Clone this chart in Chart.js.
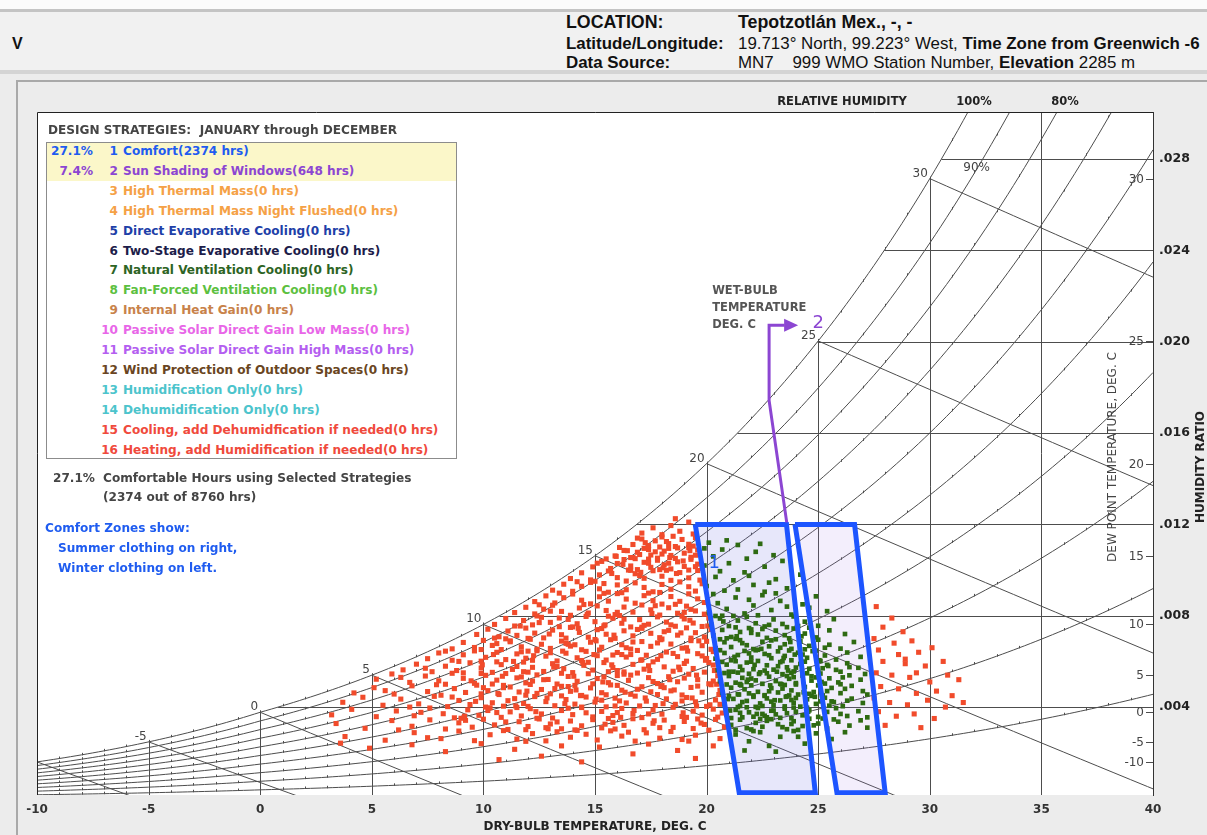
<!DOCTYPE html>
<html>
<head>
<meta charset="utf-8">
<title>Psychrometric chart - Tepotzotlán</title>
<script src="https://cdn.jsdelivr.net/npm/chart.js@4.4.1/dist/chart.umd.min.js"></script>
<style>
  html, body { margin: 0; padding: 0; }
  body { width: 1207px; height: 835px; position: relative; overflow: hidden; background: #ececec; font-family: "DejaVu Sans", sans-serif; }
  #topband { position: absolute; left: 0; top: 0; width: 1207px; height: 9px; background: #fbfbfb; }
  #header { position: absolute; left: 0; top: 9px; width: 1207px; height: 58px; background: #f1f1f1; border-top: 3px solid #c4c4c4; border-bottom: 4px solid #d4d4d4; }
  .hd { position: absolute; white-space: nowrap; font-family: "Liberation Sans", Arial, sans-serif; color: #111; line-height: 18px; }
  .hd b { font-weight: bold; }
  #panel { position: absolute; left: 16px; top: 80px; width: 1191px; height: 755px; border-left: 2px solid #a9a9a9; border-top: 2px solid #a9a9a9; box-sizing: border-box; }
  #chart { position: absolute; left: 0; top: 0; }
  .tx { position: absolute; white-space: nowrap; font-weight: bold; font-size: 12.1px; line-height: 20px; }
  #box { position: absolute; left: 46px; top: 142px; width: 411px; height: 317px; border: 1px solid #8c8c8c; box-sizing: border-box; background: #fff; }
  #hl { position: absolute; left: 47px; top: 143px; width: 409px; height: 38px; background: #fbf7c9; }
</style>
</head>
<body>
<div id="topband"></div>
<div id="header"></div>
<div class="hd" style="left:12px;top:35px;font-size:16px;font-weight:bold;">V</div>
<div class="hd" style="left:566px;top:13px;font-size:17.8px;"><b>LOCATION:</b></div>
<div class="hd" style="left:738px;top:13px;font-size:17.8px;"><b>Tepotzotlán Mex., -, -</b></div>
<div class="hd" style="left:566px;top:35px;font-size:16.9px;"><b>Latitude/Longitude:</b></div>
<div class="hd" style="left:738px;top:35px;font-size:16.9px;">19.713° North, 99.223° West, <b>Time Zone from Greenwich -6</b></div>
<div class="hd" style="left:566px;top:54px;font-size:16.9px;"><b>Data Source:</b></div>
<div class="hd" style="left:738px;top:54px;font-size:16.9px;">MN7&nbsp;&nbsp;&nbsp; 999 WMO Station Number, <b>Elevation</b> 2285 m</div>
<div id="panel"></div>
<canvas id="chart" width="1207" height="835"></canvas>
<div id="legend"></div>
<script>
// ---- chart data (temperatures in deg C, humidity ratio in g/kg) ----
const dryBulbTicks = [-10, -5, 0, 5, 10, 15, 20, 25, 30, 35, 40];
const humidityTicks = [0.004, 0.008, 0.012, 0.016, 0.020, 0.024, 0.028];
const dewPointTicks = [-10, -5, 0, 5, 10, 15, 20, 25, 30];
const wetBulbLines = [-10, -5, 0, 5, 10, 15, 20, 25, 30];
const dryBulbLines = [-5, 0, 5, 10, 15, 20, 25, 30, 35];
const rhCurves = [10, 20, 30, 40, 50, 60, 70, 80, 90, 100];

// comfort zones (winter clothing left, summer clothing right)
const winterZoneT = [19.49, 23.58, 24.87, 21.46];
const winterZoneW = [12.0, 12.0, 0.25, 0.25];
const summerZoneT = [23.96, 26.63, 28.0, 25.84];
const summerZoneW = [12.0, 12.0, 0.25, 0.25];
// sun shading boundary (strategy 2)
const sunShadeT = [23.59, 22.8, 22.8, 23.5];
const sunShadeW = [12.09, 17.43, 20.72, 20.72];
const sunShadeTip = [24.1, 20.72];

// hourly weather points, outside comfort (red) - [T, W, T, W, ...]
const redRowLow = [3.6,2.42, 4.9,2.2, 6.8,2.35, 8.3,2.05, 9.9,2.4, 11.4,2.15, 12.6,1.85, 13.5,2.3, 14.4,1.6, 15.2,2.25, 16.7,1.95, 17.4,2.38, 18.7,2.1, 19.5,1.75, 20.3,2.3, 10.7,1.7];
const redRow25 = [3.8,2.71, 5.6,2.55, 6.9,2.88, 8.1,2.62, 8.9,2.95, 9.6,2.53, 10.3,2.79, 10.9,2.97, 11.5,2.6, 12.2,2.84, 12.8,2.52, 13.3,2.92, 13.9,2.68, 14.6,2.81, 15.1,2.56, 15.7,2.96, 16.2,2.73, 16.8,2.51, 17.3,2.87, 17.9,2.64, 18.4,2.93, 18.9,2.58, 19.5,2.77, 20.1,2.99, 20.6,2.62, 11.9,2.5, 14.2,2.98, 16.5,2.9, 19.2,2.51, 7.5,2.66];
const redRow30 = [3.4,3.28, 4.7,3.07, 5.9,3.41, 6.8,3.16, 7.6,3.44, 8.3,3.04, 8.9,3.31, 9.5,3.12, 10.0,3.47, 10.5,3.22, 11.1,3.02, 11.6,3.36, 12.0,3.15, 12.5,3.48, 13.0,3.26, 13.5,3.05, 13.9,3.39, 14.4,3.18, 14.9,3.45, 15.3,3.09, 15.8,3.33, 16.3,3.2, 16.7,3.49, 17.2,3.01, 17.6,3.29, 18.1,3.43, 18.5,3.11, 19.0,3.37, 19.4,3.06, 19.9,3.24, 20.4,3.46, 20.8,3.13, 6.2,3.0, 9.2,3.42, 11.9,3.01, 14.1,3.0, 15.9,3.04, 17.9,3.1, 19.6,3.48, 12.8,3.1];
const redRow35 = [3.2,3.66, 4.1,3.9, 5.2,3.58, 6.1,3.83, 6.9,3.62, 7.6,3.96, 8.2,3.71, 8.7,3.53, 9.3,3.88, 9.8,3.64, 10.3,3.97, 10.8,3.55, 11.2,3.79, 11.7,3.61, 12.1,3.93, 12.6,3.7, 13.1,3.52, 13.5,3.85, 14.0,3.67, 14.4,3.98, 14.9,3.57, 15.3,3.81, 15.8,3.63, 16.2,3.94, 16.7,3.72, 17.1,3.54, 17.6,3.87, 18.0,3.69, 18.5,3.99, 18.9,3.59, 19.4,3.82, 19.8,3.65, 20.3,3.91, 20.7,3.74, 7.2,3.77, 9.0,3.51, 10.6,3.76, 12.4,3.51, 13.8,3.95, 15.6,3.5, 17.4,3.7, 19.1,3.55, 20.5,3.56, 11.5,3.98, 16.0,3.76];
const redRow40 = [3.7,4.21, 4.6,4.43, 5.5,4.08, 6.3,4.35, 7.1,4.14, 7.8,4.47, 8.4,4.02, 8.9,4.29, 9.4,4.11, 9.9,4.41, 10.4,4.19, 10.9,4.04, 11.4,4.37, 11.8,4.16, 12.3,4.46, 12.8,4.24, 13.2,4.06, 13.7,4.33, 14.1,4.13, 14.6,4.44, 15.0,4.22, 15.5,4.01, 15.9,4.39, 16.4,4.18, 16.8,4.48, 17.3,4.26, 17.7,4.07, 18.2,4.36, 18.6,4.12, 19.1,4.42, 19.5,4.23, 20.0,4.03, 20.4,4.31, 20.6,4.12, 6.7,4.0, 8.6,4.44, 10.1,4.0, 12.0,4.03, 13.5,4.49, 15.3,4.3, 17.0,4.05, 18.9,4.27, 11.1,4.28, 14.4,4.0, 16.1,4.27];
const redRow45 = [4.2,4.62, 5.1,4.85, 6.0,4.57, 6.8,4.93, 7.5,4.68, 8.1,4.52, 8.7,4.81, 9.2,4.64, 9.7,4.96, 10.2,4.72, 10.7,4.55, 11.2,4.88, 11.6,4.66, 12.1,4.99, 12.6,4.77, 13.0,4.58, 13.5,4.91, 13.9,4.69, 14.4,4.51, 14.8,4.84, 15.3,4.63, 15.7,4.97, 16.2,4.74, 16.6,4.56, 17.1,4.89, 17.5,4.67, 18.0,4.94, 18.4,4.71, 18.9,4.53, 19.3,4.86, 19.8,4.65, 20.2,4.98, 20.6,4.73, 5.6,4.72, 7.9,4.98, 9.9,4.58, 11.9,4.52, 13.2,4.81, 14.1,4.95, 15.5,4.54, 16.9,4.78, 17.8,4.55, 19.6,4.92, 10.9,4.95, 12.4,4.6];
const redRow50 = [5.2,5.22, 5.9,5.45, 6.7,5.08, 7.4,5.36, 8.0,5.15, 8.6,5.48, 9.1,5.26, 9.6,5.04, 10.1,5.39, 10.6,5.18, 11.0,5.47, 11.5,5.28, 11.9,5.06, 12.4,5.41, 12.9,5.21, 13.3,5.01, 13.8,5.34, 14.2,5.13, 14.7,5.46, 15.1,5.25, 15.6,5.07, 16.0,5.38, 16.5,5.17, 16.9,5.49, 17.4,5.29, 17.8,5.03, 18.3,5.33, 18.7,5.11, 19.2,5.44, 19.6,5.2, 20.1,5.02, 20.5,5.37, 6.3,5.3, 8.3,5.0, 9.9,5.47, 11.7,5.32, 13.5,5.48, 14.9,5.02, 16.3,5.44, 17.6,5.12, 19.0,5.27, 20.3,5.14, 12.2,5.14, 15.4,5.32, 10.4,5.01];
const redRow55 = [6.4,5.63, 7.0,5.88, 7.7,5.55, 8.3,5.79, 8.8,5.6, 9.4,5.94, 9.9,5.71, 10.4,5.52, 10.8,5.86, 11.3,5.65, 11.8,5.97, 12.2,5.74, 12.7,5.56, 13.1,5.9, 13.6,5.68, 14.0,5.51, 14.5,5.83, 14.9,5.62, 15.4,5.95, 15.8,5.73, 16.3,5.54, 16.7,5.87, 17.2,5.66, 17.6,5.98, 18.1,5.76, 18.5,5.57, 19.0,5.91, 19.4,5.69, 19.9,5.53, 20.3,5.84, 7.4,5.7, 9.1,5.5, 10.6,5.98, 12.0,5.53, 13.3,5.78, 14.7,5.96, 16.0,5.6, 17.4,5.81, 18.8,5.64, 20.1,5.95, 11.5,5.78, 15.6,5.55];
const redRow60 = [7.5,6.12, 8.0,6.37, 8.6,6.05, 9.1,6.29, 9.6,6.46, 10.1,6.18, 10.6,6.4, 11.0,6.08, 11.5,6.33, 11.9,6.14, 12.4,6.47, 12.8,6.23, 13.3,6.02, 13.7,6.36, 14.2,6.16, 14.6,6.44, 15.1,6.25, 15.5,6.06, 16.0,6.39, 16.4,6.19, 16.9,6.48, 17.3,6.27, 17.8,6.09, 18.2,6.41, 18.7,6.21, 19.1,6.01, 19.6,6.34, 20.0,6.13, 20.3,6.43, 8.3,6.45, 9.9,6.01, 11.7,6.42, 13.0,6.38, 14.4,6.04, 15.8,6.28, 17.1,6.07, 18.5,6.35, 19.8,6.24, 12.2,6.05, 16.6,6.3];
const redRow65 = [8.6,6.55, 9.1,6.83, 9.6,6.61, 10.0,6.92, 10.4,6.7, 10.8,6.52, 11.2,6.86, 11.7,6.64, 12.1,6.97, 12.6,6.75, 13.0,6.57, 13.5,6.89, 13.9,6.67, 14.4,6.51, 14.8,6.84, 15.3,6.62, 15.7,6.95, 16.2,6.73, 16.6,6.54, 17.1,6.87, 17.5,6.66, 18.0,6.98, 18.4,6.76, 18.9,6.58, 19.3,6.91, 19.8,6.69, 20.2,6.53, 9.9,6.52, 11.0,6.99, 12.4,6.53, 13.7,6.79, 15.0,6.96, 16.4,6.6, 17.8,6.81, 19.1,6.6, 20.0,6.88, 14.1,6.73, 10.6,6.78];
const redRow70 = [9.7,7.18, 10.2,7.41, 10.7,7.08, 11.1,7.33, 11.5,7.14, 11.9,7.46, 12.3,7.24, 12.7,7.03, 13.1,7.37, 13.5,7.17, 13.9,7.49, 14.3,7.27, 14.7,7.06, 15.1,7.39, 15.5,7.19, 15.9,7.01, 16.3,7.34, 16.7,7.12, 17.1,7.45, 17.5,7.23, 17.9,7.04, 18.3,7.36, 18.7,7.15, 19.1,7.47, 19.5,7.26, 19.9,7.07, 20.2,7.4, 10.5,7.02, 12.0,7.01, 13.7,7.02, 15.3,7.44, 16.9,7.4, 18.1,7.3, 19.3,7.02];
const redRow75 = [10.5,7.62, 11.0,7.88, 11.4,7.55, 11.8,7.79, 12.2,7.6, 12.6,7.93, 13.0,7.71, 13.4,7.52, 13.8,7.84, 14.2,7.65, 14.6,7.97, 15.0,7.74, 15.4,7.56, 15.8,7.89, 16.2,7.67, 16.6,7.51, 17.0,7.83, 17.4,7.63, 17.8,7.95, 18.2,7.72, 18.6,7.54, 19.0,7.86, 19.4,7.68, 19.8,7.53, 20.1,7.9, 12.4,7.99, 14.0,7.51, 15.6,7.98, 17.2,7.58, 18.9,7.98];
const redRow80 = [11.4,8.14, 11.9,8.37, 12.3,8.08, 12.7,8.29, 13.1,8.46, 13.5,8.19, 13.9,8.02, 14.3,8.34, 14.7,8.12, 15.1,8.43, 15.5,8.23, 15.9,8.05, 16.3,8.38, 16.7,8.16, 17.1,8.47, 17.5,8.26, 17.9,8.03, 18.3,8.35, 18.7,8.11, 19.1,8.42, 19.5,8.21, 19.9,8.07, 12.5,8.48, 14.5,8.49, 16.1,8.01, 17.7,8.44, 19.3,8.28];
const redRow85 = [12.3,8.62, 12.8,8.87, 13.2,8.56, 13.6,8.79, 14.0,8.95, 14.4,8.68, 14.8,8.52, 15.2,8.83, 15.6,8.64, 16.0,8.97, 16.4,8.73, 16.8,8.55, 17.2,8.88, 17.6,8.66, 18.0,8.51, 18.4,8.84, 18.8,8.63, 19.2,8.96, 19.6,8.74, 19.9,8.58, 13.4,8.99, 15.4,8.98, 17.4,8.99, 18.6,8.5];
const redRow90 = [13.1,9.12, 13.6,9.38, 14.0,9.07, 14.4,9.29, 14.8,9.46, 15.2,9.18, 15.6,9.03, 16.0,9.35, 16.4,9.14, 16.8,9.44, 17.2,9.24, 17.6,9.05, 18.0,9.37, 18.4,9.16, 18.8,9.48, 19.2,9.27, 19.5,9.08, 19.8,9.4, 14.2,9.49, 16.2,9.01, 17.9,9.02, 15.4,9.41];
const redRow95 = [13.9,9.63, 14.4,9.88, 14.8,9.57, 15.2,9.79, 15.6,9.96, 16.0,9.67, 16.4,9.52, 16.8,9.84, 17.2,9.64, 17.6,9.97, 18.0,9.73, 18.4,9.55, 18.8,9.89, 19.2,9.66, 19.6,9.98, 19.7,9.56, 15.0,9.51, 16.6,9.99, 18.2,9.99, 17.0,9.76];
const redRow100 = [14.9,10.14, 15.3,10.38, 15.7,10.07, 16.0,10.29, 16.3,10.46, 16.6,10.18, 16.9,10.02, 17.2,10.34, 17.5,10.12, 17.8,10.43, 18.1,10.23, 18.4,10.05, 18.7,10.36, 19.0,10.16, 19.3,10.47, 19.6,10.26, 19.8,10.08, 15.5,10.49, 16.5,10.0, 17.4,10.48, 18.3,10.3, 19.2,10.0, 15.1,10.3, 17.9,10.02];
const redRow105 = [15.9,10.62, 16.3,10.86, 16.6,10.55, 16.9,10.78, 17.2,10.95, 17.5,10.66, 17.8,10.52, 18.1,10.83, 18.4,10.64, 18.7,10.97, 19.0,10.74, 19.3,10.56, 19.6,10.88, 16.1,10.99, 16.8,10.5, 17.4,10.9, 18.0,10.7, 18.6,10.51, 19.2,10.99, 19.5,10.65, 17.0,10.68, 18.3,10.95];
const redRow110 = [16.7,11.12, 17.1,11.36, 17.4,11.07, 17.7,11.28, 18.0,11.45, 18.3,11.16, 18.6,11.03, 18.9,11.34, 19.2,11.13, 19.5,11.42, 17.9,11.01, 18.5,11.48, 19.4,11.05, 16.9,11.4];
const redRow115 = [17.1,11.62, 17.6,11.85, 18.0,11.55, 18.4,11.95, 18.8,11.7, 19.2,12.1, 19.4,11.58, 18.6,12.25];
const redCoreA = [9.15,3.6, 9.65,4.25, 10.2,3.85, 10.65,4.6, 11.0,3.35, 11.45,4.05, 11.95,4.7, 12.35,3.8, 12.85,4.4, 13.3,3.35, 13.65,4.15, 14.15,4.75, 14.6,3.75, 15.05,4.35, 15.45,3.25, 15.9,4.05, 16.35,4.65, 16.75,3.85, 17.25,4.4, 17.65,3.4, 18.05,4.15, 18.55,4.75, 18.95,3.75, 19.35,4.4, 19.75,3.3, 20.15,4.1, 20.55,4.55, 10.0,4.85, 12.9,3.05, 14.35,4.5, 16.15,3.55, 17.95,4.9, 19.55,4.05];
const redCoreB = [9.45,5.15, 9.95,5.85, 10.45,6.3, 10.85,5.35, 11.35,6.0, 11.8,5.55, 12.25,6.25, 12.7,5.2, 13.15,5.75, 13.55,6.45, 14.05,5.35, 14.45,5.95, 14.95,6.3, 15.35,5.1, 15.75,5.85, 16.2,6.3, 16.6,5.4, 17.05,6.05, 17.45,5.6, 17.95,6.25, 18.35,5.2, 18.75,5.75, 19.15,6.45, 19.55,5.4, 19.95,6.05, 20.35,5.6, 8.9,6.0, 10.9,4.85, 13.8,4.9, 16.0,4.95, 18.1,4.85, 20.45,5.0, 12.0,6.45, 15.2,6.5];
const redCoreC = [11.2,6.9, 11.65,7.55, 12.05,7.0, 12.5,7.7, 12.95,7.2, 13.4,7.9, 13.8,6.75, 14.25,7.45, 14.65,8.05, 15.05,6.9, 15.45,7.6, 15.85,7.15, 16.3,7.85, 16.7,6.85, 17.1,7.5, 17.55,8.1, 17.95,6.95, 18.4,7.6, 18.85,7.25, 19.25,7.8, 19.65,6.9, 20.05,7.55, 13.0,8.2, 16.0,8.15, 19.0,8.15];
const redCoreD = [15.75,9.85, 16.25,10.25, 16.7,10.55, 17.05,9.9, 17.4,10.3, 17.7,10.8, 18.05,10.1, 18.35,10.55, 18.65,9.85, 18.95,10.4, 19.25,10.85, 19.5,10.15, 17.25,11.2, 18.2,11.25, 16.45,10.85, 15.95,10.6];
const redRight = [27.6,8.4, 28.3,7.9, 27.9,7.5, 28.8,7.3, 27.5,7.0, 28.4,6.8, 29.2,6.9, 27.7,6.5, 28.6,6.3, 29.5,6.4, 30.1,6.6, 27.9,6.0, 28.9,5.9, 29.8,5.8, 30.6,6.0, 27.6,5.5, 28.3,5.4, 29.1,5.3, 30.0,5.1, 30.8,5.4, 31.3,5.2, 27.8,4.9, 28.6,4.8, 29.4,4.6, 30.3,4.7, 31.0,4.5, 27.5,4.4, 28.2,4.2, 29.0,4.1, 29.9,4.3, 30.7,4.0, 31.5,4.2, 27.7,3.8, 28.5,3.6, 29.3,3.7, 30.2,3.5, 28.0,3.2, 29.6,3.1, 28.9,6.1, 29.4,5.5];

// hourly weather points inside comfort zones (green)
const greenRow20 = [21.3,2.8, 21.9,2.5, 22.4,2.9, 22.8,2.3, 23.3,2.7, 23.9,2.95, 24.4,2.4, 24.9,2.85, 25.6,2.6, 21.7,2.1, 23.1,2.05, 22.1,2.95, 24.1,2.7, 26.2,2.9];
const greenRow30 = [21.1,3.22, 21.5,3.45, 21.8,3.08, 22.2,3.31, 22.5,3.14, 22.9,3.47, 23.2,3.25, 23.6,3.03, 23.9,3.38, 24.3,3.17, 24.6,3.49, 25.0,3.28, 25.4,3.06, 25.9,3.36, 26.4,3.19, 26.9,3.42, 21.3,3.0, 22.0,3.02, 22.7,3.4, 23.4,3.12, 24.1,3.0, 24.8,3.2, 25.7,3.46, 27.2,3.1, 22.4,3.48, 23.8,3.26];
const greenRow35 = [20.9,3.66, 21.3,3.88, 21.6,3.55, 21.9,3.77, 22.3,3.96, 22.6,3.62, 22.9,3.84, 23.3,3.53, 23.6,3.73, 23.9,3.98, 24.3,3.64, 24.6,3.86, 25.0,3.57, 25.4,3.79, 25.8,3.95, 26.3,3.61, 26.8,3.82, 27.2,3.55, 21.1,3.52, 21.8,3.99, 22.5,3.7, 23.1,3.68, 23.8,3.51, 24.5,3.97, 25.2,3.5, 26.0,3.7, 22.1,3.58, 24.0,3.8, 21.5,3.75, 23.5,3.93];
const greenRow40 = [20.8,4.12, 21.2,4.36, 21.5,4.05, 21.8,4.27, 22.1,4.45, 22.4,4.16, 22.7,4.38, 23.0,4.08, 23.3,4.29, 23.6,4.47, 23.9,4.19, 24.2,4.02, 24.5,4.34, 24.9,4.14, 25.3,4.41, 25.7,4.22, 26.1,4.04, 26.5,4.37, 27.0,4.18, 21.0,4.48, 21.6,4.22, 22.2,4.01, 22.9,4.24, 23.5,4.03, 24.0,4.4, 24.7,4.49, 25.5,4.06, 26.3,4.28, 22.6,4.49, 23.8,4.31, 21.4,4.0, 25.1,4.25];
const greenRow45 = [20.7,4.62, 21.1,4.85, 21.4,4.56, 21.7,4.78, 22.0,4.95, 22.3,4.67, 22.6,4.52, 22.9,4.83, 23.2,4.64, 23.5,4.97, 23.8,4.73, 24.1,4.55, 24.4,4.88, 24.8,4.66, 25.2,4.51, 25.6,4.84, 26.0,4.61, 26.5,4.93, 27.0,4.7, 20.9,4.99, 21.5,4.98, 22.1,4.51, 22.8,4.69, 23.4,4.81, 24.0,4.99, 24.6,4.58, 25.4,4.7, 26.2,4.8, 21.9,4.6, 23.7,4.51, 25.0,4.95, 27.2,4.55];
const greenRow50 = [20.6,5.13, 21.0,5.36, 21.3,5.07, 21.6,5.28, 21.9,5.46, 22.2,5.17, 22.5,5.02, 22.8,5.33, 23.1,5.14, 23.4,5.44, 23.7,5.24, 24.0,5.05, 24.3,5.38, 24.7,5.16, 25.1,5.47, 25.5,5.26, 25.9,5.08, 26.4,5.39, 26.9,5.2, 20.8,5.49, 21.5,5.01, 22.0,5.25, 22.7,5.48, 23.3,5.02, 23.9,5.31, 24.5,5.48, 25.3,5.03, 26.1,5.3, 21.8,5.1, 23.6,5.36, 24.9,5.3, 27.1,5.45];
const greenRow55 = [20.5,5.62, 20.9,5.86, 21.2,5.55, 21.5,5.77, 21.8,5.95, 22.1,5.66, 22.4,5.52, 22.7,5.83, 23.0,5.64, 23.3,5.97, 23.6,5.74, 23.9,5.56, 24.2,5.89, 24.6,5.68, 25.0,5.53, 25.4,5.85, 25.8,5.63, 26.3,5.92, 26.8,5.72, 20.7,5.98, 21.4,5.51, 22.0,5.99, 22.6,5.6, 23.2,5.79, 23.8,5.5, 24.4,5.99, 25.2,5.7, 26.0,5.55, 21.6,5.62, 24.0,5.73];
const greenRow60 = [20.4,6.12, 20.8,6.37, 21.1,6.05, 21.4,6.28, 21.7,6.46, 22.0,6.17, 22.3,6.02, 22.6,6.33, 22.9,6.14, 23.2,6.44, 23.5,6.24, 23.8,6.05, 24.1,6.38, 24.5,6.16, 24.9,6.47, 25.3,6.26, 25.8,6.08, 26.3,6.39, 26.9,6.2, 20.6,6.49, 21.3,6.01, 22.2,6.49, 22.8,6.27, 23.4,6.01, 24.3,6.3, 25.1,6.02, 21.9,6.35, 23.7,6.48];
const greenRow65 = [20.4,6.58, 20.8,6.84, 21.1,6.63, 21.5,6.93, 21.8,6.71, 22.1,6.54, 22.5,6.86, 22.8,6.66, 23.1,6.97, 23.5,6.75, 23.8,6.55, 24.2,6.88, 24.6,6.68, 25.0,6.95, 25.5,6.73, 26.0,6.56, 26.6,6.85, 21.3,6.99, 22.3,6.51, 23.3,6.6, 24.4,6.53, 20.6,6.97, 22.9,6.92, 25.3,6.6];
const greenRow70 = [20.3,7.14, 20.7,7.38, 21.1,7.07, 21.5,7.29, 21.9,7.46, 22.3,7.18, 22.7,7.03, 23.1,7.35, 23.5,7.15, 23.9,7.44, 24.4,7.22, 24.9,7.05, 25.5,7.36, 26.2,7.2, 21.3,7.49, 22.5,7.42, 23.7,7.01, 20.9,7.01, 24.6,7.48, 22.0,7.25];
const greenRow75 = [20.2,7.62, 20.6,7.88, 21.0,7.55, 21.4,7.79, 21.8,7.96, 22.2,7.67, 22.6,7.53, 23.0,7.84, 23.4,7.64, 23.9,7.97, 24.4,7.74, 25.0,7.56, 25.7,7.85, 21.2,7.99, 22.8,7.6, 23.6,7.5, 20.4,7.99, 24.1,7.55];
const greenRow80 = [20.1,8.15, 20.5,8.55, 20.9,8.3, 21.3,8.8, 21.7,8.1, 22.1,8.45, 22.5,8.9, 22.9,8.25, 23.3,8.65, 23.8,8.05, 24.3,8.5, 24.9,8.85, 25.4,8.2, 20.3,8.95, 21.9,8.7, 23.1,8.98, 22.3,8.02, 24.6,8.35, 20.7,8.0, 23.6,8.4];
const greenRow90 = [20.0,9.3, 20.4,9.7, 20.8,9.1, 21.2,9.55, 21.7,9.9, 22.1,9.35, 22.6,9.05, 23.1,9.6, 23.6,9.2, 24.2,9.8, 20.6,9.95, 21.9,9.75, 22.8,9.45, 21.4,9.15];
const greenRow100 = [19.9,10.2, 20.3,10.6, 20.7,10.9, 21.0,10.3, 21.4,11.1, 21.8,10.5, 22.2,10.8, 22.6,10.15, 23.0,10.65, 20.1,11.2, 20.9,11.3, 22.4,11.15, 19.9,10.95, 23.4,10.4];
const greenCore = [21.05,3.85, 21.45,4.55, 21.85,5.2, 22.15,5.85, 22.45,6.55, 22.7,3.55, 23.05,4.3, 23.35,5.0, 23.65,5.6, 23.95,6.3, 24.25,7.1, 24.55,3.8, 24.85,4.45, 25.15,5.1, 25.45,5.8, 21.25,6.2, 21.6,6.8, 22.0,7.4, 22.5,4.05, 22.85,4.95, 23.15,5.55, 23.45,6.15, 23.75,6.85, 24.05,7.5, 24.35,4.65, 24.7,5.35, 25.05,6.05, 21.0,5.55, 21.35,7.1, 22.25,3.7, 20.95,4.35, 23.0,3.85, 24.75,6.45, 25.6,4.25, 26.0,5.0, 26.4,5.75, 20.75,7.75, 21.55,4.95, 22.35,5.45, 23.55,4.45];

// design strategies legend
const strategyNames = ['Comfort', 'Sun Shading of Windows', 'High Thermal Mass', 'High Thermal Mass Night Flushed',
  'Direct Evaporative Cooling', 'Two-Stage Evaporative Cooling', 'Natural Ventilation Cooling', 'Fan-Forced Ventilation Cooling',
  'Internal Heat Gain', 'Passive Solar Direct Gain Low Mass', 'Passive Solar Direct Gain High Mass', 'Wind Protection of Outdoor Spaces',
  'Humidification Only', 'Dehumidification Only', 'Cooling, add Dehumidfication if needed', 'Heating, add Humidification if needed'];
const strategyHours = [2374, 648, 0, 0, 0, 0, 0, 0, 0, 0, 0, 0, 0, 0, 0, 0];
const strategyShare = ['27.1%', '7.4%', '', '', '', '', '', '', '', '', '', '', '', '', '', ''];
const strategyColors = ['#1f5cf0', '#8c46d2', '#f5a146', '#f5a146', '#1e3fa8', '#1d1d4a', '#2d6424', '#5cc040',
  '#c8824a', '#e866e8', '#b45ef0', '#6a4522', '#4cc4cc', '#4cc4cc', '#f04a3c', '#f04a3c'];

// ---- legend panel (html text) ----
const legend = document.getElementById('legend');
let html = '<div class="tx" style="left:48px;top:120px;color:#454545;">DESIGN STRATEGIES:&nbsp; JANUARY through DECEMBER</div>' +
  '<div id="box"></div><div id="hl"></div>';
strategyNames.forEach((name, i) => {
  const top = 141 + i * 19.9;
  const c = strategyColors[i];
  html += '<div class="tx" style="left:46px;top:' + top + 'px;width:47px;text-align:right;color:' + c + ';">' + strategyShare[i] + '</div>';
  html += '<div class="tx" style="left:93px;top:' + top + 'px;width:25px;text-align:right;color:' + c + ';">' + (i + 1) + '</div>';
  html += '<div class="tx" style="left:123px;top:' + top + 'px;color:' + c + ';">' + name + '(' + strategyHours[i] + ' hrs)</div>';
});
html += '<div class="tx" style="left:53px;top:468px;color:#454545;">27.1%</div>' +
  '<div class="tx" style="left:103px;top:468px;color:#454545;">Comfortable Hours using Selected Strategies</div>' +
  '<div class="tx" style="left:103px;top:487px;color:#454545;">(2374 out of 8760 hrs)</div>' +
  '<div class="tx" style="left:45px;top:518px;color:#1f5cf0;">Comfort Zones show:</div>' +
  '<div class="tx" style="left:58px;top:538px;color:#1f5cf0;">Summer clothing on right,</div>' +
  '<div class="tx" style="left:58px;top:558px;color:#1f5cf0;">Winter clothing on left.</div>';
legend.innerHTML = html;

// ---- psychrometrics (sea level) ----
const P_ATM = 101.325;
function satPressure(t) {
  return t >= 0 ? 0.61094 * Math.exp(17.625 * t / (t + 243.04)) : 0.61115 * Math.exp(22.452 * t / (272.55 + t));
}
function humidityRatio(t, rh) {
  const p = rh * satPressure(t);
  return 0.622 * p / (P_ATM - p);
}
function satTemp(w) {
  let lo = -40, hi = 60;
  for (let i = 0; i < 60; i++) {
    const m = (lo + hi) / 2;
    if (humidityRatio(m, 1) < w) lo = m; else hi = m;
  }
  return (lo + hi) / 2;
}
function wetBulbW(t, twb) {
  const ws = humidityRatio(twb, 1);
  if (twb >= 0) return ((2501 - 2.326 * twb) * ws - 1.006 * (t - twb)) / (2501 + 1.86 * t - 4.186 * twb);
  return ((2830 - 0.24 * twb) * ws - 1.006 * (t - twb)) / (2830 + 1.86 * t - 2.1 * twb);
}

function toPoints(flat) {
  const out = [];
  for (let i = 0; i < flat.length; i += 2) out.push({x: flat[i], y: flat[i + 1] / 1000});
  return out;
}
function toPolygon(ts, ws) {
  const pts = ts.map((t, i) => ({x: t, y: ws[i] / 1000}));
  pts.push(pts[0]);
  return pts;
}

const redPoints = toPoints([].concat(redRowLow, redRow25, redRow30, redRow35, redRow40, redRow45, redRow50, redRow55,
  redRow60, redRow65, redRow70, redRow75, redRow80, redRow85, redRow90, redRow95, redRow100, redRow105, redRow110, redRow115,
  redCoreA, redCoreB, redCoreC, redCoreD, redRight));
const greenPoints = toPoints([].concat(greenRow20, greenRow30, greenRow35, greenRow40, greenRow45, greenRow50, greenRow55,
  greenRow60, greenRow65, greenRow70, greenRow75, greenRow80, greenRow90, greenRow100, greenCore));

const GRID = '#4d4d4d';
const LABEL = '#444444';

const psychroGrid = {
  id: 'psychroGrid',
  beforeDraw(chart) {
    const {ctx, chartArea: a} = chart;
    ctx.save();
    ctx.fillStyle = '#ffffff';
    ctx.fillRect(a.left, a.top, a.right - a.left, a.bottom - a.top);
    ctx.restore();
  },
  beforeDatasetsDraw(chart) {
    const {ctx, chartArea: a, scales} = chart;
    const xs = scales.x, ys = scales.y;
    const px = t => xs.getPixelForValue(t);
    const py = w => ys.getPixelForValue(w);
    ctx.save();
    ctx.beginPath();
    ctx.rect(a.left, a.top, a.right - a.left, a.bottom - a.top);
    ctx.clip();
    ctx.strokeStyle = GRID;
    ctx.lineWidth = 1;

    // relative humidity curves with small degree ticks
    rhCurves.forEach(rh => {
      ctx.beginPath();
      for (let i = 0; i <= 200; i++) {
        const t = -10 + i * 0.25;
        const X = px(t), Y = py(humidityRatio(t, rh / 100));
        if (i === 0) ctx.moveTo(X, Y); else ctx.lineTo(X, Y);
      }
      ctx.stroke();
      ctx.beginPath();
      for (let t = -9; t < 40; t++) {
        const X = Math.round(px(t)) + 0.5, Y = py(humidityRatio(t, rh / 100));
        ctx.moveTo(X, Y + 0.5);
        ctx.lineTo(X, Y - 2);
      }
      ctx.stroke();
    });

    // dry-bulb verticals up to saturation
    dryBulbLines.forEach(t => {
      const X = Math.round(px(t)) + 0.5;
      const top = Math.min(humidityRatio(t, 1), ys.max);
      ctx.beginPath();
      ctx.moveTo(X, a.bottom);
      ctx.lineTo(X, py(top));
      ctx.stroke();
    });

    // humidity ratio horizontals from saturation to the right
    humidityTicks.forEach(w => {
      const Y = Math.round(py(w)) + 0.5;
      ctx.beginPath();
      ctx.moveTo(px(satTemp(w)), Y);
      ctx.lineTo(a.right, Y);
      ctx.stroke();
    });

    // wet-bulb lines
    wetBulbLines.forEach(twb => {
      ctx.beginPath();
      for (let i = 0; i <= 40; i++) {
        const t = twb + i * (45 - twb) / 40;
        const X = px(t), Y = py(wetBulbW(t, twb));
        if (i === 0) ctx.moveTo(X, Y); else ctx.lineTo(X, Y);
      }
      ctx.stroke();
    });

    // wet-bulb labels on the saturation curve
    ctx.fillStyle = LABEL;
    ctx.font = '12px "DejaVu Sans"';
    ctx.textAlign = 'right';
    ctx.textBaseline = 'alphabetic';
    wetBulbLines.forEach(twb => {
      ctx.fillText(String(twb), px(twb) - 2, py(humidityRatio(twb, 1)) - 2);
    });
    ctx.restore();
  },
  afterDatasetsDraw(chart) {
    const {ctx, chartArea: a, scales} = chart;
    const xs = scales.x, ys = scales.y;
    const px = t => xs.getPixelForValue(t);
    const py = w => ys.getPixelForValue(w);
    ctx.save();

    // sun shading arrow head
    const tipX = px(sunShadeTip[0]), tipY = py(sunShadeTip[1] / 1000);
    ctx.fillStyle = '#8c46d2';
    ctx.beginPath();
    ctx.moveTo(tipX, tipY);
    ctx.lineTo(tipX - 14, tipY - 6.5);
    ctx.lineTo(tipX - 14, tipY + 6.5);
    ctx.closePath();
    ctx.fill();

    // zone numbers
    ctx.font = '18px "DejaVu Sans"';
    ctx.textAlign = 'center';
    ctx.textBaseline = 'middle';
    ctx.fillStyle = '#1f5cf0';
    ctx.fillText('1', px(20.34), py(0.0103));
    ctx.fillStyle = '#8c46d2';
    ctx.fillText('2', px(25.0), py(0.0208));

    // dew point scale inside the right edge
    ctx.strokeStyle = GRID;
    ctx.fillStyle = LABEL;
    ctx.font = '12px "DejaVu Sans"';
    ctx.textAlign = 'right';
    dewPointTicks.forEach(td => {
      const Y = Math.round(py(humidityRatio(td, 1))) + 0.5;
      ctx.beginPath();
      ctx.moveTo(a.right - 7, Y);
      ctx.lineTo(a.right, Y);
      ctx.stroke();
      ctx.fillText(String(td), a.right - 9, Y);
    });

    // chart frame top and left
    ctx.strokeStyle = '#222';
    ctx.lineWidth = 1;
    ctx.beginPath();
    ctx.moveTo(a.left + 0.5, a.bottom);
    ctx.lineTo(a.left + 0.5, a.top + 0.5);
    ctx.lineTo(a.right, a.top + 0.5);
    ctx.stroke();

    // in-chart captions
    ctx.fillStyle = '#555';
    ctx.font = 'bold 11.5px "DejaVu Sans"';
    ctx.textAlign = 'left';
    ctx.textBaseline = 'middle';
    ['WET-BULB', 'TEMPERATURE', 'DEG. C'].forEach((s, i) => ctx.fillText(s, px(20.25), py(0.0222) + i * 17));
    ctx.font = '12px "DejaVu Sans"';
    ctx.fillStyle = LABEL;
    ctx.textAlign = 'center';
    ctx.fillText('90%', px(32.1), py(0.0276));

    ctx.fillStyle = '#222';
    ctx.font = 'bold 11.5px "DejaVu Sans"';
    ctx.fillText('RELATIVE HUMIDITY', 842, a.top - 10);
    ctx.fillText('100%', 974, a.top - 10);
    ctx.fillText('80%', 1065, a.top - 10);

    // rotated axis captions
    ctx.save();
    ctx.translate(1113, 457);
    ctx.rotate(-Math.PI / 2);
    ctx.fillStyle = LABEL;
    ctx.font = '12px "DejaVu Sans"';
    ctx.fillText('DEW POINT TEMPERATURE, DEG. C', 0, 0);
    ctx.restore();
    ctx.save();
    ctx.translate(1201, 467);
    ctx.rotate(-Math.PI / 2);
    ctx.fillStyle = '#222';
    ctx.font = 'bold 12px "DejaVu Sans"';
    ctx.fillText('HUMIDITY RATIO', 0, 0);
    ctx.restore();
    ctx.restore();
  }
};

Chart.defaults.font.family = '"DejaVu Sans", sans-serif';

new Chart(document.getElementById('chart'), {
  type: 'scatter',
  data: {
    datasets: [
      {type: 'line', data: toPolygon(winterZoneT, winterZoneW), fill: 'shape', backgroundColor: 'rgba(110,110,225,0.17)', borderWidth: 0, pointRadius: 0, order: 6},
      {type: 'line', data: toPolygon(summerZoneT, summerZoneW), fill: 'shape', backgroundColor: 'rgba(165,125,230,0.13)', borderWidth: 0, pointRadius: 0, order: 5},
      {data: redPoints, pointStyle: 'rect', pointRadius: 3.6, backgroundColor: '#f14b2b', borderWidth: 0, order: 4},
      {data: greenPoints, pointStyle: 'rect', pointRadius: 3.3, backgroundColor: '#2e6a12', borderWidth: 0, order: 3},
      {type: 'line', data: toPolygon(winterZoneT, winterZoneW), fill: false, borderColor: '#1d55ff', borderWidth: 5, borderJoinStyle: 'miter', pointRadius: 0, order: 2},
      {type: 'line', data: toPolygon(summerZoneT, summerZoneW), fill: false, borderColor: '#1d55ff', borderWidth: 5, borderJoinStyle: 'miter', pointRadius: 0, order: 2},
      {type: 'line', data: toPolygon(sunShadeT, sunShadeW).slice(0, 4), fill: false, borderColor: '#8c46d2', borderWidth: 3, pointRadius: 0, order: 1}
    ]
  },
  options: {
    responsive: false,
    animation: false,
    devicePixelRatio: 1,
    events: [],
    layout: {padding: {left: 37, top: 112, right: 0, bottom: 0}},
    plugins: {legend: {display: false}, tooltip: {enabled: false}},
    scales: {
      x: {
        type: 'linear', position: 'bottom', min: -10, max: 40,
        afterFit(scale) { scale.height = 40; },
        afterBuildTicks(scale) { scale.ticks = dryBulbTicks.map(v => ({value: v})); },
        grid: {display: false, drawTicks: false},
        border: {display: false},
        ticks: {padding: 8, maxRotation: 0, autoSkip: false, color: '#333', font: {size: 12, weight: 'bold'}},
        title: {display: true, text: 'DRY-BULB TEMPERATURE, DEG. C', color: '#222', font: {size: 12, weight: 'bold'}, padding: {top: 0, bottom: 1}}
      },
      y: {
        type: 'linear', position: 'right', min: 0.00015, max: 0.03006,
        afterFit(scale) { scale.width = 54; },
        afterBuildTicks(scale) { scale.ticks = humidityTicks.map(v => ({value: v})); },
        grid: {display: false, drawTicks: false},
        border: {display: true, color: '#333', width: 1},
        ticks: {padding: 6, color: '#222', font: {size: 12.5, weight: 'bold'}, callback: v => v.toFixed(3).replace(/^0/, '')}
      }
    }
  },
  plugins: [psychroGrid]
});
</script>
</body>
</html>
